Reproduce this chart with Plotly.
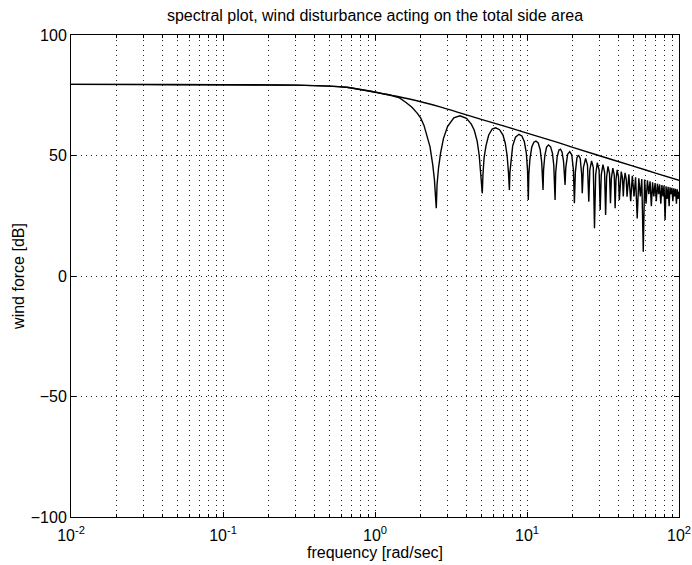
import plotly.graph_objects as go

# ---------------- data ----------------
# smooth upper envelope
env_freq = [0.01, 0.03, 0.1, 0.2, 0.3, 0.5, 0.65, 0.8, 1.0, 1.08, 1.2, 1.46,
            2.0, 2.68, 3.62, 5.0, 7.0, 10.0, 14.2, 20.0, 30.0, 50.0, 70.0, 100.0]
env_db = [79.5, 79.5, 79.4, 79.3, 79.2, 78.8, 78.3, 77.4, 76.4, 75.9, 75.3, 74.3,
          72.3, 70.2, 67.7, 65.0, 62.3, 59.3, 56.4, 53.4, 49.9, 45.6, 42.7, 39.7]

# oscillating spectrum (notched lobes)
resp_freq = [
    # low-frequency plateau and roll-off into first notch
    0.01, 0.03, 0.1, 0.2, 0.3, 0.5, 0.65, 0.8, 1.0, 1.08, 1.2, 1.3, 1.45, 1.6,
    1.75, 1.9, 2.0, 2.1, 2.2, 2.3, 2.4, 2.46, 2.53,
    # lobe 1
    2.56, 2.62, 2.70, 2.82, 3.0, 3.3, 3.62, 4.0, 4.3, 4.5, 4.7, 4.85, 4.97, 5.03, 5.08,
    # lobe 2
    5.13, 5.22, 5.37, 5.6, 5.9, 6.22, 6.6, 6.95, 7.2, 7.4, 7.55, 7.66,
    # lobe 3
    7.72, 7.85, 8.05, 8.4, 8.85, 9.25, 9.6, 9.9, 10.08, 10.2,
    # lobe 4
    10.28, 10.45, 10.75, 11.1, 11.45, 11.85, 12.2, 12.5, 12.65, 12.75,
    # lobe 5
    12.85, 13.1, 13.45, 13.85, 14.3, 14.7, 15.0, 15.3,
    # lobe 6
    15.45, 15.8, 16.2, 16.6, 17.0, 17.4, 17.8,
    # lobe 7
    18.0, 18.5, 19.1, 19.7, 20.2, 20.5,
    # lobe 8
    20.8, 21.3, 21.8, 22.4, 22.9, 23.1,
    # lobes 9-17
    23.5, 24.3, 25.0, 25.5,
    25.9, 26.6, 27.3, 27.8,
    28.3, 29.0, 29.8, 30.3,
    30.8, 31.6, 32.4, 32.9,
    33.4, 34.1, 34.9, 35.4,
    35.9, 36.7, 37.5, 38.0,
    38.5, 39.2, 40.0, 40.5,
    41.0, 41.7, 42.5, 43.0,
    43.5, 44.2, 45.0, 45.5,
    # lobes 18-38 (peak, notch)
    46.8, 48.1, 49.3, 50.6, 51.8, 53.1, 54.4, 55.7, 56.9, 58.2,
    59.4, 60.7, 62.0, 63.3, 64.5, 65.8, 67.0, 68.3, 69.6, 70.9,
    72.1, 73.4, 74.6, 75.9, 77.2, 78.5, 79.7, 81.0, 82.2, 83.5,
    84.8, 86.1, 87.3, 88.6, 89.8, 91.1, 92.4, 93.7, 94.9, 96.2,
    97.4, 98.7, 100.0,
]
resp_db = [
    79.5, 79.5, 79.4, 79.3, 79.2, 78.8, 78.3, 77.4, 76.4, 75.9, 75.3, 74.8, 73.9, 72.0,
    70.0, 67.5, 65.5, 62.5, 58.5, 53.7, 46.0, 40.0, 28.1,
    38.0, 45.0, 51.0, 57.0, 62.0, 65.6, 66.5, 65.4, 63.0, 60.5, 56.0, 50.0, 43.0, 38.0, 34.3,
    42.0, 49.0, 54.0, 58.5, 61.0, 61.5, 60.7, 58.5, 55.0, 50.0, 43.0, 35.7,
    43.0, 49.0, 54.0, 57.6, 58.8, 58.1, 55.8, 51.0, 44.0, 31.5,
    42.0, 48.5, 53.5, 55.5, 56.0, 55.2, 52.5, 47.0, 41.0, 35.7,
    44.0, 50.0, 53.5, 54.4, 53.6, 51.0, 46.0, 31.5,
    43.0, 49.5, 52.2, 52.6, 51.5, 47.5, 37.8,
    45.0, 50.5, 51.6, 50.3, 44.0, 30.2,
    43.0, 49.0, 50.2, 48.8, 42.0, 34.3,
    45.0, 48.8, 46.0, 30.8,
    44.0, 47.8, 45.0, 19.8,
    42.0, 47.0, 44.0, 27.4,
    42.0, 46.2, 43.0, 25.3,
    41.0, 45.5, 42.5, 30.2,
    40.5, 44.8, 42.0, 28.1,
    40.0, 44.0, 41.0, 31.5,
    39.5, 43.3, 40.5, 33.0,
    39.0, 42.8, 40.0, 32.9,
    42.2, 31.0, 41.6, 33.0, 41.0, 23.9, 40.5, 33.0, 40.2, 10.1,
    40.0, 30.0, 39.7, 34.0, 39.3, 29.0, 38.9, 33.0, 38.6, 31.0,
    38.3, 34.0, 38.0, 30.0, 37.7, 33.0, 37.5, 23.2, 37.2, 32.0,
    37.0, 29.0, 36.8, 34.0, 36.6, 31.0, 36.4, 33.0, 36.2, 30.0,
    36.0, 32.0, 35.0,
]

x_tick_vals = [0.01, 0.1, 1, 10, 100]
x_tick_text = ["10<sup>-2</sup>", "10<sup>-1</sup>", "10<sup>0</sup>",
               "10<sup>1</sup>", "10<sup>2</sup>"]
x_minor_vals = [m * d for d in (0.01, 0.1, 1, 10) for m in range(2, 10)]
y_tick_vals = [-100, -50, 0, 50, 100]

title_text = "spectral plot, wind disturbance acting on the total side area"
x_title = "frequency [rad/sec]"
y_title = "wind force [dB]"

# ---------------- figure ----------------
FONT = "Liberation Sans, Arial, Helvetica, sans-serif"
FS = 16
GRID = dict(showgrid=True, gridcolor="#222222", gridwidth=1, griddash="1px,4px")

fig = go.Figure()
fig.add_trace(go.Scatter(x=env_freq, y=env_db, mode="lines",
                         line=dict(color="black", width=1.4, shape="spline"),
                         hoverinfo="skip", showlegend=False))
fig.add_trace(go.Scatter(x=resp_freq, y=resp_db, mode="lines",
                         line=dict(color="black", width=1.4),
                         hoverinfo="skip", showlegend=False))

fig.update_layout(
    width=692, height=565,
    margin=dict(l=71, r=13, t=35, b=48, autoexpand=False),
    paper_bgcolor="white", plot_bgcolor="white",
    font=dict(family=FONT, size=FS, color="black"),
    title=dict(text=title_text, x=(71 + 679) / 2 / 692, xanchor="center",
               y=1 - 15 / 565, yanchor="middle",
               font=dict(family=FONT, size=FS, color="black")),
    showlegend=False,
)
fig.update_xaxes(
    type="log", range=[-2, 2],
    tickmode="array", tickvals=x_tick_vals, ticktext=x_tick_text,
    ticks="inside", ticklen=5, tickcolor="black", tickwidth=1,
    ticklabelstandoff=4,
    showline=True, linecolor="black", linewidth=1, mirror="ticks",
    zeroline=False,
    minor=dict(tickvals=x_minor_vals, ticks="inside", ticklen=3, tickcolor="black",
               **GRID),
    title=dict(text=x_title, standoff=0, font=dict(family=FONT, size=FS)),
    tickfont=dict(family=FONT, size=FS),
    **GRID,
)
fig.update_yaxes(
    range=[-100, 100], tickmode="array", tickvals=y_tick_vals,
    ticks="inside", ticklen=5, tickcolor="black", tickwidth=1,
    showline=True, linecolor="black", linewidth=1, mirror="ticks",
    zeroline=False,
    title=dict(text=y_title, standoff=2, font=dict(family=FONT, size=FS)),
    tickfont=dict(family=FONT, size=FS),
    **GRID,
)

fig.write_html("out.html")
